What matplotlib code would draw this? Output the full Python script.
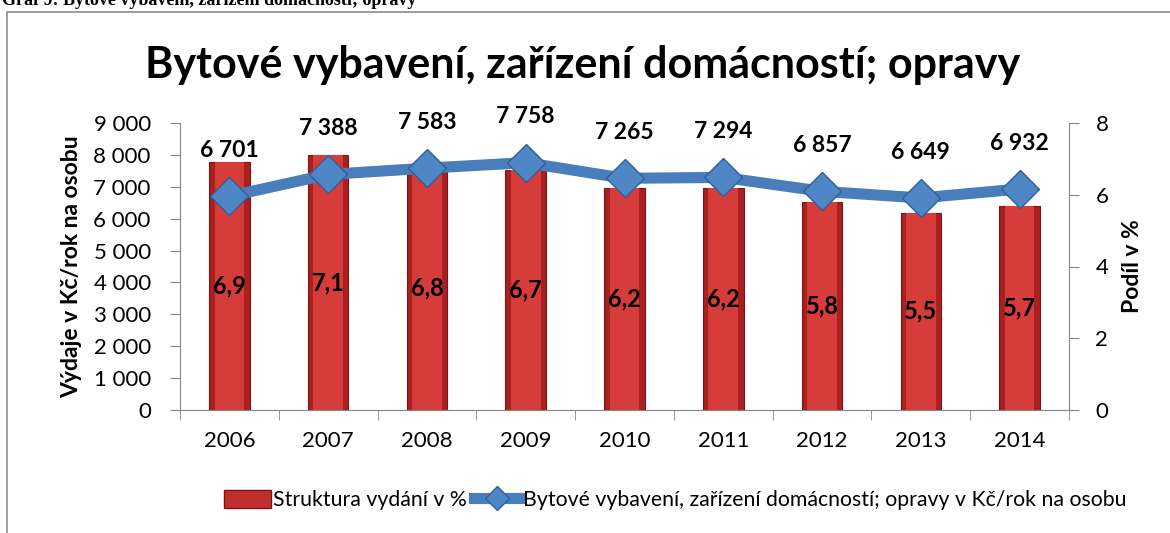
import matplotlib.pyplot as plt
from matplotlib.patches import Rectangle
from matplotlib.lines import Line2D
from matplotlib.ticker import FuncFormatter

plt.rcParams['font.family'] = ['Lato', 'DejaVu Sans']

# data
years = ['2006', '2007', '2008', '2009', '2010', '2011', '2012', '2013', '2014']
podil = [6.9, 7.1, 6.8, 6.7, 6.2, 6.2, 5.8, 5.5, 5.7]                       # Struktura vydání v %
vydaje = [6701, 7388, 7583, 7758, 7265, 7294, 6857, 6649, 6932]           # Kč/rok na osobu

x = list(range(len(years)))
gray = '#868686'
line_col = '#4A7EBB'

fig = plt.figure(figsize=(11.7, 5.33), dpi=100)
ax = fig.add_axes([180 / 1170, 1 - 410 / 533, (1069 - 180) / 1170, (410 - 123) / 533])
ax2 = ax.twinx()

# bars on the percent axis (drawn first, underneath the line)
ax2.bar(x, podil, width=0.41, color='#A82020', edgecolor='#7E1414', linewidth=0.8, zorder=2)
ax2.bar(x, podil, width=0.30, color='#D63C3A', linewidth=0, zorder=3)
for xi, v in zip(x, podil):
    ax2.text(xi, v / 2, f'{v:.1f}'.replace('.', ','), ha='center', va='center',
             fontsize=17, fontweight='bold', zorder=6)

ax2.set_ylim(0, 8)
ax2.set_yticks([0, 2, 4, 6, 8])
ax2.set_ylabel('Podíl v %', fontsize=16.5, fontweight='bold', labelpad=10)

# line on the Kč axis, drawn above the bars
ax.set_zorder(ax2.get_zorder() + 1)
ax.patch.set_visible(False)
ax.plot(x, vydaje, color=line_col, linewidth=8, marker='D', markersize=19,
        markerfacecolor='#4F86C6', markeredgecolor='#2F5F95', markeredgewidth=1, zorder=4)
for xi, v in zip(x, vydaje):
    ax.annotate(f'{v:,}'.replace(',', ' '), (xi, v), xytext=(0, 33), textcoords='offset points',
                ha='center', va='center', fontsize=16.5, fontweight='bold')

ax.set_ylim(0, 9000)
ax.set_yticks(range(0, 9001, 1000))
ax.yaxis.set_major_formatter(FuncFormatter(lambda v, p: f'{int(v):,}'.replace(',', ' ')))
ax.set_ylabel('Výdaje v Kč/rok na osobu', fontsize=16.5, fontweight='bold', labelpad=8)

ax.set_xlim(-0.5, len(years) - 0.5)
ax.set_xticks(x)
ax.set_xticklabels(years)
ax.set_xticks([i - 0.5 for i in range(len(years) + 1)], minor=True)
ax.tick_params(axis='x', which='major', length=0, pad=15, labelsize=16)
ax.tick_params(axis='x', which='minor', length=7, color=gray, direction='out')
ax.tick_params(axis='y', length=7, color=gray, labelsize=16, pad=14)
ax2.tick_params(axis='y', length=7, color=gray, labelsize=16, pad=12)

for a in (ax, ax2):
    a.spines['top'].set_visible(False)
    for s in ('left', 'right', 'bottom'):
        a.spines[s].set_color(gray)
ax.spines['right'].set_visible(False)
ax2.spines['left'].set_visible(False)
ax2.spines['bottom'].set_visible(False)

fig.text(583 / 1170, 1 - 65 / 533, 'Bytové vybavení, zařízení domácností; opravy',
         ha='center', va='center', fontsize=31, fontweight='bold')

# caption cut off at the top, and chart frame
fig.text(0.002, 1 - 5 / 533, 'Graf 9: Bytové vybavení, zařízení domácností; opravy',
         family='Liberation Serif', fontweight='bold', fontsize=13, va='baseline')
fig.add_artist(Rectangle((7 / 1170, -0.2), 1.2, 1.2 - 12 / 533, transform=fig.transFigure,
                         fill=False, edgecolor='#8c8c8c', linewidth=1.2))

handles = [Rectangle((0, 0), 1, 1, facecolor='#C0302E', edgecolor='#7E1414'),
           Line2D([], [], color=line_col, linewidth=8, marker='D', markersize=12,
                  markerfacecolor='#4F86C6', markeredgecolor='#2F5F95')]
fig.legend(handles, ['Struktura vydání v %',
                     'Bytové vybavení, zařízení domácností; opravy v Kč/rok na osobu'],
           loc='center', bbox_to_anchor=(675 / 1170, 1 - 500 / 533), ncol=2, frameon=False,
           fontsize=15.3, handlelength=2.2, handleheight=0.9, handletextpad=0.1, columnspacing=0.35)

fig.savefig('out.png', dpi=100)
